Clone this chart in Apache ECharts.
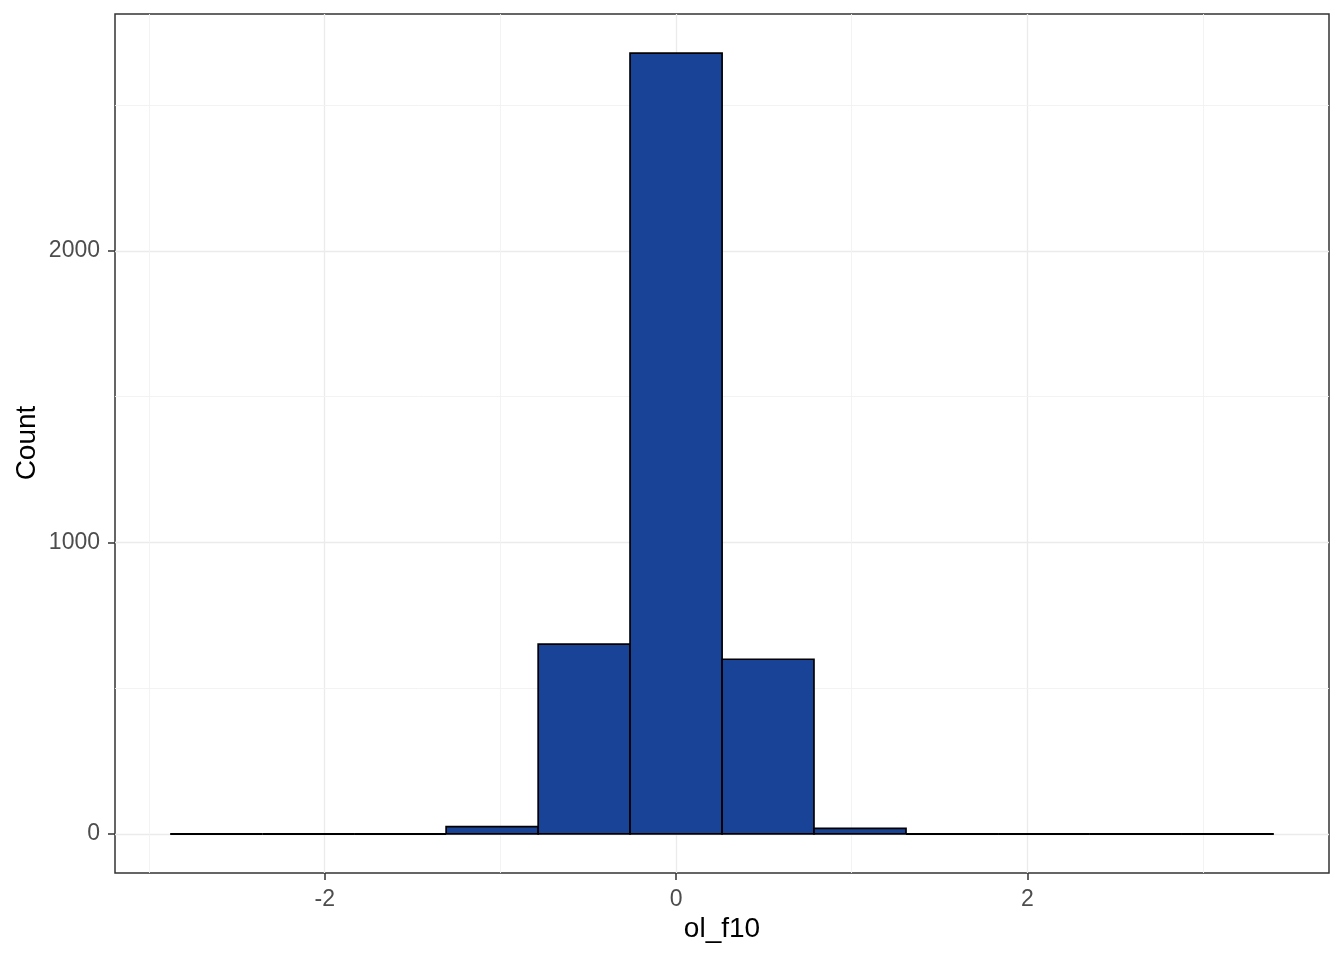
<!DOCTYPE html>
<html>
<head>
<meta charset="utf-8">
<script src="https://cdn.jsdelivr.net/npm/echarts@6/dist/echarts.min.js"></script>
<style>html,body{margin:0;padding:0;background:#fff;}#c{width:1344px;height:960px;}</style>
</head>
<body>
<div id="c"></div>
<script>
// Histogram bin edges (ol_f10) and counts
var binEdges = [-2.880, -2.356, -1.833, -1.309, -0.785, -0.262, 0.262, 0.785, 1.309, 1.833, 2.356, 2.880, 3.403];
var binCounts = [0, 0, 0, 25, 651, 2678, 599, 19, 0, 0, 0, 0];
var xTicks = [-2, 0, 2];
var xMinorGrid = [-3, -1, 1, 3];
var yTicks = [0, 1000, 2000];
var yMinorGrid = [500, 1500, 2500];
var xTitle = 'ol_f10';
var yTitle = 'Count';

var barData = binCounts.map(function (c, i) { return [binEdges[i], binEdges[i + 1], c]; });

var chart = echarts.init(document.getElementById('c'), null, { renderer: 'canvas' });
var font = '"Liberation Sans", Arial, sans-serif';
var minorStyle = { color: '#F2F2F2', width: 0.9, type: 'solid' };
var markData = [];
xMinorGrid.forEach(function (v) { markData.push({ xAxis: v, lineStyle: minorStyle }); });
yMinorGrid.forEach(function (v) { markData.push({ yAxis: v, lineStyle: minorStyle }); });

chart.setOption({
  animation: false,
  backgroundColor: '#ffffff',
  grid: { left: 115, right: 15, top: 14, bottom: 87, containLabel: false, outerBoundsMode: 'none',
          show: true, borderColor: '#333333', borderWidth: 1.5, backgroundColor: 'transparent' },
  graphic: [
    { type: 'text', x: 27, y: 443, rotation: Math.PI / 2, silent: true,
      style: { text: yTitle, align: 'center', verticalAlign: 'middle', fontFamily: font, fontSize: 28, fill: '#000000' } }
  ],
  xAxis: {
    type: 'value', min: -3.194, max: 3.717,
    name: xTitle, nameLocation: 'middle', nameGap: 42, nameMoveOverlap: false,
    nameTextStyle: { fontFamily: font, fontSize: 28, color: '#000000' },
    axisLine: { show: false, onZero: false },
    axisTick: { show: true, inside: false, customValues: xTicks, length: 7, lineStyle: { color: '#333333', width: 1.5 } },
    axisLabel: { customValues: xTicks, fontFamily: font, fontSize: 23, color: '#4D4D4D', margin: 15,
                 formatter: function (v) { return String(v); } },
    splitLine: { show: true, lineStyle: { color: '#EBEBEB', width: 1.3 } }
  },
  yAxis: {
    type: 'value', min: -134, max: 2812,
    axisLine: { show: false, onZero: false },
    axisTick: { show: true, inside: false, customValues: yTicks, length: 7, lineStyle: { color: '#333333', width: 1.5 } },
    axisLabel: { customValues: yTicks, fontFamily: font, fontSize: 23, color: '#4D4D4D', margin: 15,
                 formatter: function (v) { return String(v); } },
    splitLine: { show: true, lineStyle: { color: '#EBEBEB', width: 1.3 } }
  },
  series: [
    {
      type: 'line', data: [], silent: true, z: 1,
      markLine: { silent: true, symbol: ['none', 'none'], label: { show: false }, animation: false, data: markData }
    },
    {
      type: 'custom', z: 5,
      data: barData,
      renderItem: function (params, api) {
        var p0 = api.coord([api.value(0), api.value(2)]);
        var p1 = api.coord([api.value(1), 0]);
        var x = p0[0], y = p0[1], w = p1[0] - p0[0], h = p1[1] - p0[1];
        if (h < 0.5) {
          return { type: 'line', shape: { x1: x, y1: p1[1], x2: p1[0], y2: p1[1] }, style: { stroke: '#000000', lineWidth: 2 } };
        }
        return { type: 'rect', shape: { x: x, y: y, width: w, height: h }, style: { fill: '#184397', stroke: '#000000', lineWidth: 1.7 } };
      }
    }
  ]
});
</script>
</body>
</html>
